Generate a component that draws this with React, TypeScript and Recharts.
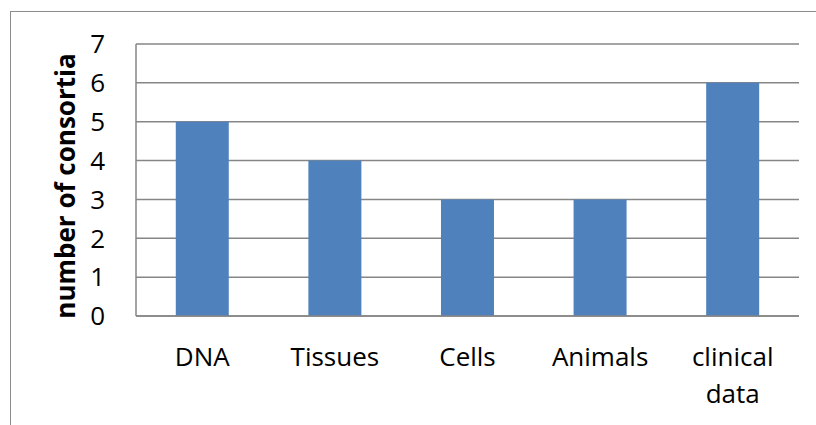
import { Bar, BarChart, CartesianGrid, XAxis, YAxis } from "recharts";

const categories = ["DNA", "Tissues", "Cells", "Animals", "clinical data"];
const consortia = [5, 4, 3, 3, 6];
const yTicks = [0, 1, 2, 3, 4, 5, 6, 7];

const data = categories.map((name, i) => ({ name, value: consortia[i] }));

const FONT = "'Open Sans', sans-serif";

function CategoryTick(props: any) {
  const { x, y, payload } = props;
  const lines = String(payload.value).split(" ");
  return (
    <text x={x} y={y} textAnchor="middle" fontFamily={FONT} fontSize={26} fill="#000">
      {lines.map((l, i) => (
        <tspan key={i} x={x} dy={i === 0 ? 50 : 37}>
          {l}
        </tspan>
      ))}
    </text>
  );
}

export default function App() {
  return (
    <div style={{ position: "fixed", left: 0, top: 0, width: 816, height: 425, background: "#fff", overflow: "hidden" }}>
      <div
        style={{
          position: "absolute",
          left: 10,
          top: 11,
          width: 830,
          height: 440,
          border: "1.5px solid #8c8c8c",
          boxSizing: "border-box",
        }}
      />
      <div style={{ position: "absolute", left: 0, top: 0 }}>
        <BarChart
          width={816}
          height={425}
          data={data}
          margin={{ top: 44, right: 17, left: 96, bottom: 49 }}
          barCategoryGap="30%"
        >
          <CartesianGrid vertical={false} stroke="#868686" strokeWidth={1.5} />
          <XAxis
            dataKey="name"
            axisLine={{ stroke: "#868686", strokeWidth: 1.5 }}
            tickLine={false}
            tickSize={0}
            tickMargin={0}
            height={60}
            interval={0}
            tick={<CategoryTick />}
          />
          <YAxis
            domain={[0, 7]}
            ticks={yTicks}
            interval={0}
            width={40}
            axisLine={{ stroke: "#868686", strokeWidth: 1.5 }}
            tickLine={false}
            tickSize={0}
            tickMargin={31}
            tick={{ fontFamily: FONT, fontSize: 26, fill: "#000" }}
            label={{
              content: () => (
                <text
                  x={65}
                  y={186}
                  transform="rotate(-90 65 186)"
                  textAnchor="middle"
                  dominantBaseline="central"
                  fontFamily={FONT}
                  fontWeight="bold"
                  fontSize={26}
                  fill="#000"
                >
                  number of consortia
                </text>
              ),
            }}
          />
          <Bar dataKey="value" fill="#4F81BD" isAnimationActive={false} />
        </BarChart>
      </div>
    </div>
  );
}
